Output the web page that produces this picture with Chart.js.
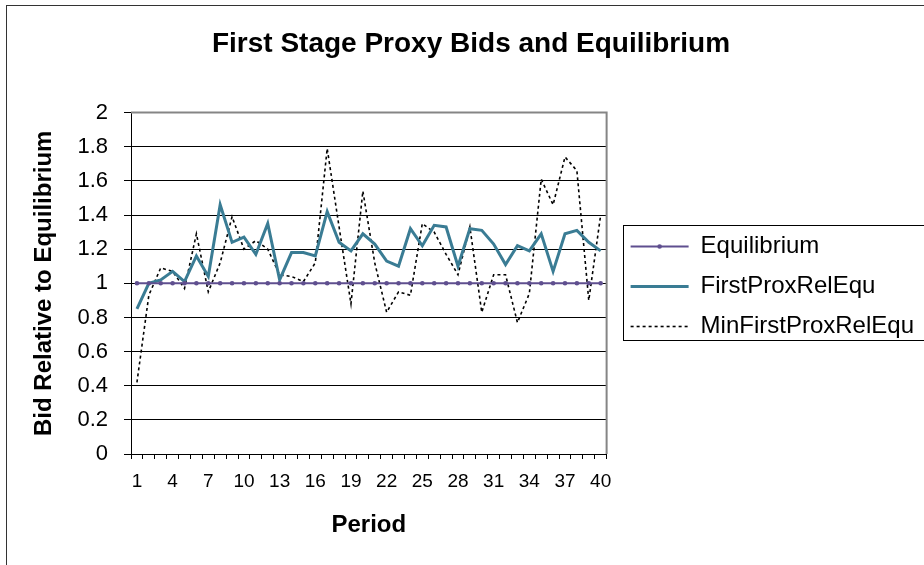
<!DOCTYPE html>
<html lang="en">
    <head>
        <meta charset="UTF-8" />
        <title>First Stage Proxy Bids and Equilibrium</title>
        <script src="https://cdn.jsdelivr.net/npm/chart.js"></script>
        <style>
            body { margin: 0; overflow: hidden; background: #fff; }
            #frame { position: absolute; left: 6px; top: 5px; width: 1000px; height: 1000px; border: 1px solid #333; }
            #bidChart { position: absolute; left: 0; top: 0; }
        </style>
    </head>
    <body>
        <div id="frame"></div>
        <canvas id="bidChart" width="924" height="565"></canvas>
        <script>
            const periods = ["1","2","3","4","5","6","7","8","9","10","11","12","13","14","15","16","17","18","19","20",
                "21","22","23","24","25","26","27","28","29","30","31","32","33","34","35","36","37","38","39","40"];
            const equilibrium = [1,1,1,1,1,1,1,1,1,1,1,1,1,1,1,1,1,1,1,1,
                1,1,1,1,1,1,1,1,1,1,1,1,1,1,1,1,1,1,1,1];
            const firstProx = [0.85,1.00,1.02,1.07,1.01,1.16,1.04,1.46,1.24,1.27,1.17,1.35,1.02,1.18,1.18,1.16,1.42,1.24,1.19,1.29,
                1.23,1.13,1.10,1.32,1.22,1.34,1.33,1.10,1.32,1.31,1.23,1.11,1.22,1.19,1.29,1.07,1.29,1.31,1.24,1.19];
            const minFirstProx = [0.42,0.93,1.09,1.07,0.97,1.29,0.95,1.12,1.39,1.20,1.25,1.20,1.05,1.04,1.01,1.12,1.79,1.33,0.88,1.54,
                1.12,0.83,0.95,0.93,1.35,1.30,1.17,1.05,1.33,0.83,1.05,1.05,0.77,0.94,1.61,1.46,1.74,1.66,0.90,1.40];

            const FONT = '"Liberation Sans", Arial, sans-serif';
            const purple = "#5f4f8f";
            const teal = "#3a7c94";

            // plot border (top/right) and legend frame, like the spreadsheet chart
            const decorations = {
                id: "decorations",
                beforeDatasetsDraw(chart) {
                    const { ctx, chartArea: a } = chart;
                    ctx.save();
                    ctx.strokeStyle = "#858585";
                    ctx.lineWidth = 2;
                    ctx.beginPath();
                    ctx.moveTo(a.left, a.top);
                    ctx.lineTo(a.right, a.top);
                    ctx.lineTo(a.right, a.bottom);
                    ctx.stroke();
                    ctx.restore();
                },
                afterDraw(chart) {
                    const hb = chart.legend.legendHitBoxes;
                    if (!hb || !hb.length) return;
                    const ctx = chart.ctx;
                    const last = hb[hb.length - 1];
                    ctx.save();
                    ctx.strokeStyle = "#000";
                    ctx.lineWidth = 1;
                    const left = Math.round(hb[0].left - 8) + 0.5;
                    const top = Math.round(hb[0].top - 10) + 0.5;
                    const bottom = Math.round(last.top + last.height + 1) + 0.5;
                    ctx.strokeRect(left, top, chart.width + 20 - left, bottom - top);
                    // marker dot on the Equilibrium legend line
                    ctx.fillStyle = purple;
                    ctx.beginPath();
                    ctx.arc(hb[0].left + 29, hb[0].top + 12, 2.3, 0, Math.PI * 2);
                    ctx.fill();
                    ctx.restore();
                },
            };

            const ctx = document.getElementById("bidChart").getContext("2d");
            const chart = new Chart(ctx, {
                type: "line",
                data: {
                    labels: periods,
                    datasets: [
                        {
                            label: "Equilibrium",
                            data: equilibrium,
                            borderColor: purple,
                            backgroundColor: purple,
                            borderWidth: 2,
                            pointRadius: 2.3,
                            pointBorderWidth: 0,
                            pointBackgroundColor: purple,
                            tension: 0,
                        },
                        {
                            label: "FirstProxRelEqu",
                            data: firstProx,
                            borderColor: teal,
                            backgroundColor: teal,
                            borderWidth: 3,
                            pointRadius: 0,
                            tension: 0,
                        },
                        {
                            label: "MinFirstProxRelEqu",
                            data: minFirstProx,
                            borderColor: "#000",
                            backgroundColor: "#000",
                            borderWidth: 1.6,
                            borderDash: [3, 3],
                            pointRadius: 0,
                            tension: 0,
                        },
                    ],
                },
                options: {
                    responsive: false,
                    animation: false,
                    devicePixelRatio: 1,
                    layout: { padding: { left: 18, top: 8, right: 0, bottom: 0 } },
                    plugins: {
                        title: {
                            display: true,
                            text: "First Stage Proxy Bids and Equilibrium",
                            color: "#000",
                            font: { family: FONT, size: 28, weight: "bold" },
                            padding: { top: 19, bottom: 52 },
                        },
                        legend: {
                            position: "right",
                            align: "center",
                            maxWidth: 330,
                            labels: {
                                color: "#000",
                                font: { family: FONT, size: 24 },
                                usePointStyle: true,
                                pointStyle: "line",
                                pointStyleWidth: 58,
                                padding: 16,
                                generateLabels: (chart) =>
                                    chart.data.datasets.map((ds, i) => ({
                                        text: ds.label,
                                        datasetIndex: i,
                                        hidden: false,
                                        fontColor: "#000",
                                        fillStyle: ds.borderColor,
                                        strokeStyle: ds.borderColor,
                                        lineWidth: ds.borderWidth,
                                        lineDash: ds.borderDash || [],
                                        lineCap: "butt",
                                        pointStyle: "line",
                                    })),
                            },
                        },
                        tooltip: { enabled: false },
                    },
                    scales: {
                        x: {
                            offset: true,
                            afterFit: (s) => { s.height = 111; },
                            grid: { offset: true, drawOnChartArea: false, tickLength: 5, color: "#000" },
                            border: { color: "#000", width: 1 },
                            ticks: {
                                autoSkip: false,
                                maxRotation: 0,
                                padding: 11,
                                color: "#000",
                                font: { family: FONT, size: 19 },
                                callback: function (value, index) {
                                    return index % 3 === 0 ? periods[index] : "";
                                },
                            },
                            title: {
                                display: true,
                                text: "Period",
                                color: "#000",
                                font: { family: FONT, size: 24, weight: "bold" },
                                padding: { top: 0, bottom: 25 },
                            },
                        },
                        y: {
                            min: 0,
                            max: 2,
                            afterFit: (s) => { s.width = 113; },
                            grid: { color: "#000", lineWidth: 1, tickLength: 7 },
                            border: { color: "#000", width: 1 },
                            ticks: {
                                stepSize: 0.2,
                                padding: 16,
                                color: "#000",
                                font: { family: FONT, size: 22 },
                                callback: function (value) {
                                    return Number(value.toFixed(1)).toString();
                                },
                            },
                            title: {
                                display: true,
                                text: "Bid Relative to Equilibrium",
                                color: "#000",
                                font: { family: FONT, size: 24, weight: "bold" },
                                padding: { top: 12, bottom: 0 },
                            },
                        },
                        gap: {
                            type: "linear",
                            position: "right",
                            afterFit: (s) => { s.width = 8; },
                            grid: { display: false, drawTicks: false },
                            border: { display: false },
                            ticks: { display: false },
                        },
                    },
                },
                plugins: [decorations],
            });
        </script>
    </body>
</html>
